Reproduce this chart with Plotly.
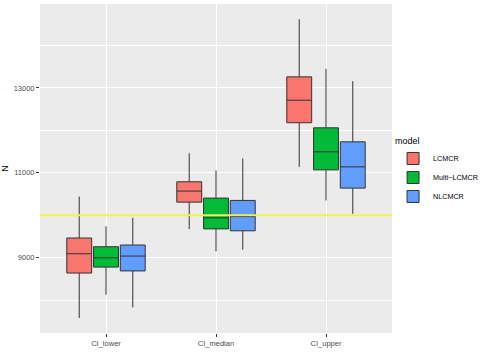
import plotly.graph_objects as go

# Precomputed box statistics (per model, per interval)
categories = ["CI_lower", "CI_median", "CI_upper"]
models = ["LCMCR", "Multi\u2212LCMCR", "NLCMCR"]

lcmcr_low = [7580, 9675, 11140]
lcmcr_q1 = [8640, 10310, 12180]
lcmcr_med = [9095, 10570, 12710]
lcmcr_q3 = [9465, 10790, 13260]
lcmcr_high = [10440, 11460, 14620]

multi_low = [8130, 9150, 10350]
multi_q1 = [8780, 9680, 11070]
multi_med = [9000, 9940, 11495]
multi_q3 = [9260, 10405, 12060]
multi_high = [9740, 11055, 13450]

nl_low = [7830, 9190, 10035]
nl_q1 = [8690, 9635, 10640]
nl_med = [9040, 9970, 11140]
nl_q3 = [9300, 10350, 11730]
nl_high = [9940, 11340, 13160]

true_n = 10000

colors = ["#F8766D", "#00BA38", "#619CFF"]

stats = [
    (lcmcr_low, lcmcr_q1, lcmcr_med, lcmcr_q3, lcmcr_high),
    (multi_low, multi_q1, multi_med, multi_q3, multi_high),
    (nl_low, nl_q1, nl_med, nl_q3, nl_high),
]

FONT = "Liberation Sans, Arial, sans-serif"

fig = go.Figure()
for name, color, (lo, q1, med, q3, hi) in zip(models, colors, stats):
    fig.add_trace(go.Box(
        x=categories,
        lowerfence=lo,
        q1=q1,
        median=med,
        q3=q3,
        upperfence=hi,
        name=name,
        fillcolor=color,
        line=dict(color="#333333", width=1),
        whiskerwidth=0,
        hoverinfo="skip",
    ))

fig.add_shape(
    type="line", xref="paper", x0=0, x1=1, yref="y", y0=true_n, y1=true_n,
    line=dict(color="#F2F24E", width=2), layer="above",
)

fig.update_layout(
    width=480, height=360,
    margin=dict(l=40, r=88, t=4, b=27, autoexpand=False),
    paper_bgcolor="white",
    plot_bgcolor="#EBEBEB",
    boxmode="group",
    boxgap=0.27,
    boxgroupgap=0.07,
    font=dict(family=FONT, color="#4D4D4D", size=7.5),
    legend=dict(
        title=dict(text="model", font=dict(size=9, color="black")),
        font=dict(size=7.2, color="black"),
        x=1.003, xanchor="left", y=0.49, yanchor="middle",
        bgcolor="rgba(0,0,0,0)",
        itemwidth=30,
        tracegroupgap=0,
    ),
    showlegend=True,
)

fig.update_xaxes(
    type="category",
    range=[-0.6, 2.6],
    automargin=False,
    showgrid=True, gridcolor="white", gridwidth=1.2,
    ticks="outside", ticklen=3, tickcolor="#333333", tickwidth=1,
    zeroline=False, showline=False,
    tickfont=dict(size=7.5, color="#4D4D4D"),
)

fig.update_yaxes(
    range=[7228, 14976],
    automargin=False,
    tick0=9000, dtick=2000,
    showgrid=True, gridcolor="white", gridwidth=1.2,
    minor=dict(tick0=8000, dtick=1000, showgrid=True, gridcolor="white", gridwidth=0.6),
    ticks="outside", ticklen=3, tickcolor="#333333", tickwidth=1,
    zeroline=False, showline=False,
    tickformat="d",
    tickfont=dict(size=7.5, color="#4D4D4D"),
    title=dict(text="N", font=dict(size=9, color="black"), standoff=6),
)

# drop the browser's default body margin so the 480x360 figure fills the window
fig.write_html(
    "out.html",
    config={"displayModeBar": False},
    post_script="document.body.style.margin='0';",
)
